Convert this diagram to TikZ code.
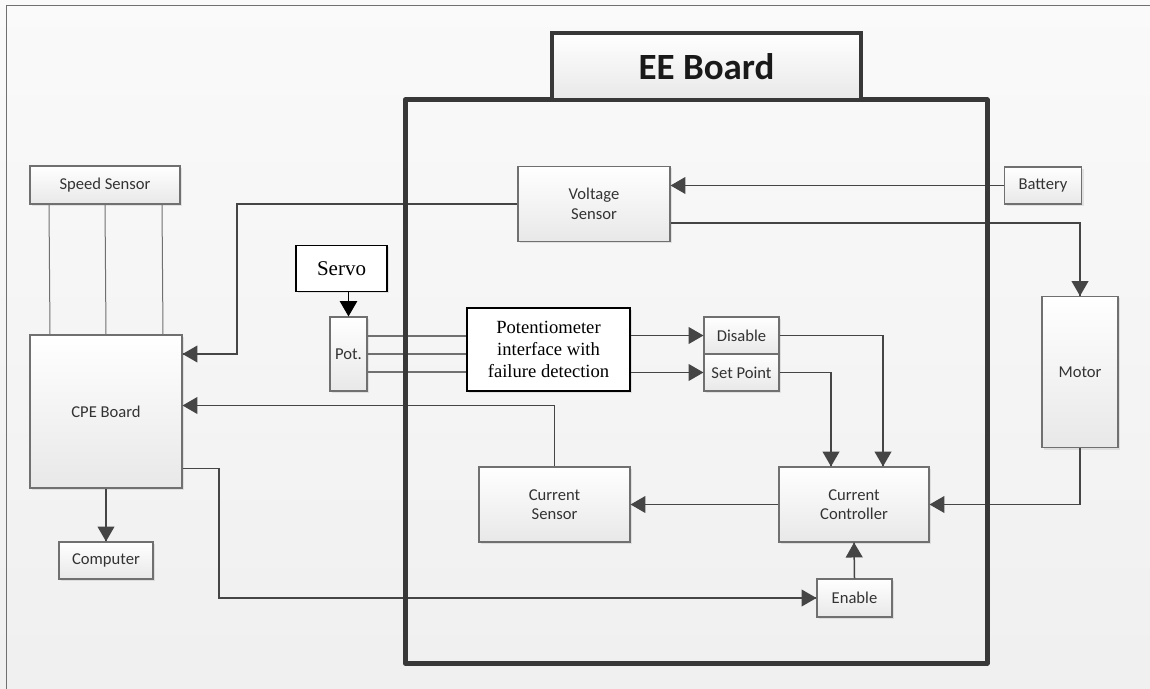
\documentclass[tikz,border=0pt]{standalone}
\usepackage{fontspec}
\setmainfont{Carlito}
\newfontfamily\timesface{Liberation Serif}
\usepackage{tikz}
\usetikzlibrary{arrows}
\usetikzlibrary{calc}
\usetikzlibrary{shadows}
\usetikzlibrary{decorations.markings}
\definecolor{wiregray}{HTML}{454545}
\definecolor{boxgray}{HTML}{707070}
\definecolor{boardgray}{HTML}{383838}
\definecolor{fillbot}{HTML}{E8E8E8}
\tikzset{flow/.style = {decoration={markings,
                                    mark=at position 1 with {\arrow[scale=1.15]{triangle 60}}},
                        postaction={decorate}}}
\tikzset{wire/.style = {draw=wiregray, line width=0.75pt}}
\tikzset{unit/.style = {draw=boxgray, line width=0.55pt, top color=white, bottom color=fillbot,
                        text=black!80, align=center, inner sep=0pt,
                        font=\fontsize{8.3}{9.8}\selectfont,
                        drop shadow={shadow xshift=1pt, shadow yshift=-1pt, opacity=0.18}}}
\tikzset{paper/.style = {draw=black, line width=0.9pt, fill=white, align=center, inner sep=0pt,
                         font=\timesface\fontsize{9.3}{10.8}\selectfont,
                         drop shadow={shadow xshift=1pt, shadow yshift=-1pt, opacity=0.18}}}

\begin{document}
\begin{tikzpicture}[x=0.5pt, y=-0.5pt]
    \useasboundingbox (0,0) rectangle (1150,689);
    \shade [top color=black!2, bottom color=black!6] (0,0) rectangle (1150,689);
    \draw [boxgray, line width=0.5pt] (6,689) -- (6,6) -- (1150,6);

    \node [unit, minimum width=75pt, minimum height=19pt] (speed) at (105,185) {Speed Sensor};
    \node [unit, minimum width=76pt, minimum height=76.5pt] (cpe) at (106,411.5) {CPE Board};
    \node [unit, minimum width=47pt, minimum height=18.5pt] (computer) at (106,560.5) {Computer};
    \node [unit, minimum width=76pt, minimum height=37.5pt] (volt) at (594,204) {Voltage\\Sensor};
    \node [unit, minimum width=38.5pt, minimum height=18.5pt] (battery) at (1043,185.5) {Battery};
    \node [unit, minimum width=38pt, minimum height=75.5pt] (motor) at (1080,372) {Motor};
    \node [paper, minimum width=45.5pt, minimum height=23pt,
           font=\timesface\fontsize{10.5}{12}\selectfont] (servo) at (341.5,268.5) {Servo};
    \node [unit, minimum width=18.5pt, minimum height=37pt] (pot) at (348.5,354) {Pot.};
    \node [paper, minimum width=81.5pt, minimum height=41.5pt] (potif) at (548.5,349.5)
          {Potentiometer\\interface with\\failure detection};
    \node [unit, minimum width=37.5pt, minimum height=18.5pt] (disable) at (741.5,335.5) {Disable};
    \node [unit, minimum width=37.5pt, minimum height=18.5pt] (setpt) at (741.5,372.5) {Set Point};
    \node [unit, minimum width=75pt, minimum height=37.5pt] (cc) at (854,504.5) {Current\\Controller};
    \node [unit, minimum width=75.5pt, minimum height=37.5pt] (cs) at (554.5,504.5) {Current\\Sensor};
    \node [unit, minimum width=37.5pt, minimum height=19pt] (enable) at (854.5,598) {Enable};

    \foreach \dx in {-56,0,57}
        \draw [wire, draw=boxgray, line width=0.5pt] ([xshift=\dx*0.5pt]speed.south) -- ([xshift=\dx*0.5pt]cpe.north);
    \draw [wire, flow] (battery.west) -- (volt.east |- battery.west);
    \draw [wire, flow] ($(volt.east)+(0,19)$) -| (motor.north);
    \coordinate (vbend) at (237,354);
    \draw [wire, flow] (volt.west) -| (vbend) -- (cpe.east |- vbend);
    \draw [wire, flow] (cs.north) |- ($(cpe.east)+(0,-6)$);
    \coordinate (ebend) at (219,598);
    \draw [wire, flow] ($(cpe.east)+(0,57)$) -| (ebend) -- (enable.west);
    \draw [wire, flow] (cpe.south) -- (computer.north);
    \draw [flow, draw=black, line width=0.8pt] (servo.south -| pot.north) -- (pot.north);
    \foreach \dy [count=\i] in {-18,0,18} {
        \coordinate (p\i) at ($(pot.east)+(0,\dy)$);
        \draw [wire, draw=boxgray, line width=0.6pt] (p\i) -- (p\i -| potif.west);
    }
    \draw [wire, flow] ($(potif.east)+(0,-14)$) -- (disable.west);
    \draw [wire, flow] ($(potif.east)+(0,23)$) -- (setpt.west);
    \draw [wire, flow] (disable.east) -| ($(cc.north)+(29,0)$);
    \draw [wire, flow] (setpt.east) -| ($(cc.north)+(-23,0)$);
    \draw [wire, flow] (motor.south) |- (cc.east);
    \draw [wire, flow] (cc.west) -- (cs.east);
    \draw [wire, flow] (enable.north) -- (cc.south);

    \draw [boardgray, line width=2.5pt, line join=round] (405,100) rectangle (987,663);
    \node [draw=boardgray, line width=2pt, top color=white, bottom color=fillbot,
           minimum width=154.5pt, minimum height=33.5pt, inner sep=0pt, text=black!90,
           font=\fontsize{18.5}{22}\selectfont\bfseries,
           drop shadow={shadow xshift=1pt, shadow yshift=-1pt, opacity=0.18}] (eeboard) at (706.5,66.5) {EE Board};
\end{tikzpicture}
\end{document}
